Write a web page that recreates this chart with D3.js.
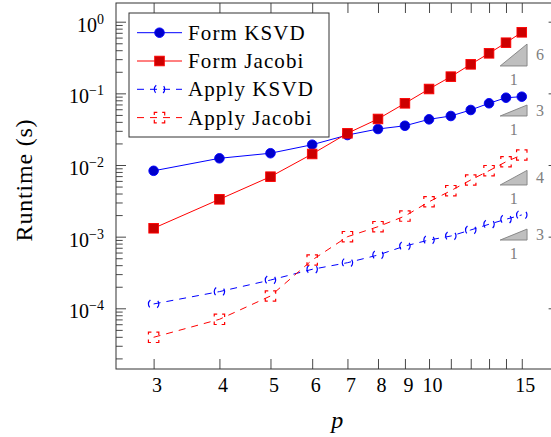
<!DOCTYPE html>
<html>
<head>
<meta charset="utf-8">
<script src="https://cdn.jsdelivr.net/npm/d3@7"></script>
<style>
    html, body { margin: 0; padding: 0; background: #fff; }
    svg { display: block; font-family: 'Liberation Serif', 'DejaVu Serif', serif; }
    svg text { font-family: 'Liberation Serif', 'DejaVu Serif', serif; }
</style>
</head>
<body>
<svg id="chart"></svg>
<script>
const pValues = [3, 4, 5, 6, 7, 8, 9, 10, 11, 12, 13, 14, 15];
const formKsvd = [0.0083, 0.0124, 0.0146, 0.0192, 0.0262, 0.0318, 0.0353, 0.0434, 0.0483, 0.0586, 0.0727, 0.0869, 0.0898];
const formJacobi = [0.00131, 0.00332, 0.00687, 0.01425, 0.0277, 0.0439, 0.0726, 0.115, 0.171, 0.254, 0.362, 0.509, 0.711];
const applyKsvd = [1.15e-4, 1.71e-4, 2.48e-4, 3.5e-4, 4.33e-4, 5.54e-4, 7.4e-4, 8.97e-4, 1.02e-3, 1.24e-3, 1.49e-3, 1.75e-3, 2.01e-3];
const applyJacobi = [3.94e-5, 7.02e-5, 1.485e-4, 4.72e-4, 9.98e-4, 1.377e-3, 1.94e-3, 3.07e-3, 4.38e-3, 6.18e-3, 8.33e-3, 1.11e-2, 1.38e-2];
const seriesNames = ['Form KSVD', 'Form Jacobi', 'Apply KSVD', 'Apply Jacobi'];

const xTickLabels = ['3', '4', '5', '6', '7', '8', '9', '10', '', '', '', '', '15'];
const yTickExponents = [0, -1, -2, -3, -4];

// slope triangles: rate, base value at the left corner, p span
const slopeRates = [6, 3, 4, 3];
const slopeBases = [0.241, 0.0483, 0.00526, 0.000897];
const slopeSpan = [13.65, 15.35];

const width = 551;
const height = 437;
const plot = { left: 116, right: 558.6, top: 3, bottom: 369 };

function init() {
    const svg = d3.select('#chart')
        .attr('width', width)
        .attr('height', height);

    const x = d3.scaleLog()
        .domain([2.545, 17.62])
        .range([plot.left, plot.right]);
    const y = d3.scaleLog()
        .domain([10 ** -4.847, 10 ** 0.261])
        .range([plot.bottom, plot.top]);

    const series = [
        { name: seriesNames[0], values: formKsvd, color: '#0000ff', fill: '#0000cc', mark: 'circle', dashed: false },
        { name: seriesNames[1], values: formJacobi, color: '#ff0000', fill: '#cc0000', mark: 'square', dashed: false },
        { name: seriesNames[2], values: applyKsvd, color: '#0000ff', fill: 'none', mark: 'circle', dashed: true },
        { name: seriesNames[3], values: applyJacobi, color: '#ff0000', fill: 'none', mark: 'square', dashed: true },
    ];

    // minor y ticks 2..9 per decade
    const minorY = [];
    for (let e = -5; e <= 0; e++) {
        for (let m = 2; m <= 9; m++) {
            const v = m * 10 ** e;
            if (v > y.domain()[0] && v < y.domain()[1])
                minorY.push(v);
        }
    }
    const majorY = yTickExponents.map(e => 10 ** e);

    const axes = svg.append('g').attr('color', '#333');

    const xb = axes.append('g')
        .attr('transform', `translate(0,${plot.bottom})`)
        .call(d3.axisBottom(x)
            .tickValues(pValues)
            .tickFormat((d, i) => xTickLabels[i])
            .tickSizeInner(-10)
            .tickSizeOuter(0)
            .tickPadding(9));
    xb.selectAll('text')
        .attr('dx', 3)
        .attr('fill', '#000');

    axes.append('g')
        .attr('transform', `translate(0,${plot.top})`)
        .call(d3.axisTop(x).tickValues(pValues).tickFormat('').tickSizeInner(-10).tickSizeOuter(0));

    for (const [vals, len] of [[majorY, 10], [minorY, 6.7]]) {
        axes.append('g')
            .attr('transform', `translate(${plot.left},0)`)
            .call(d3.axisLeft(y).tickValues(vals).tickFormat('').tickSizeInner(-len).tickSizeOuter(0));
        axes.append('g')
            .attr('transform', `translate(${plot.right},0)`)
            .call(d3.axisRight(y).tickValues(vals).tickFormat('').tickSizeInner(-len).tickSizeOuter(0));
    }
    axes.selectAll('.domain').remove();
    axes.selectAll('line').attr('stroke-width', 0.9);
    axes.selectAll('g')
        .attr('font-family', null)
        .attr('font-size', 20);

    axes.append('rect')
        .attr('x', plot.left)
        .attr('y', plot.top)
        .attr('width', plot.right - plot.left)
        .attr('height', plot.bottom - plot.top)
        .attr('fill', 'none')
        .attr('stroke', '#333')
        .attr('stroke-width', 1);

    // y tick labels 10^k
    svg.append('g')
        .selectAll('text')
        .data(yTickExponents)
        .join('text')
        .attr('x', 104)
        .attr('y', d => y(10 ** d) + 10)
        .attr('text-anchor', 'end')
        .attr('font-size', 20)
        .each(function (d) {
            const t = d3.select(this);
            t.append('tspan').text('10');
            t.append('tspan')
                .attr('font-size', 14)
                .attr('dy', -8)
                .text(d < 0 ? '\u2212' + (-d) : String(d));
        });

    svg.append('text')
        .attr('transform', `translate(32,${(plot.top + plot.bottom) / 2 - 6}) rotate(-90)`)
        .attr('text-anchor', 'middle')
        .attr('font-size', 24)
        .attr('letter-spacing', 0.8)
        .text('Runtime (s)');

    svg.append('text')
        .attr('x', (plot.left + plot.right) / 2)
        .attr('y', 428)
        .attr('text-anchor', 'middle')
        .attr('font-size', 24)
        .attr('font-style', 'italic')
        .text('p');

    svg.append('defs').append('clipPath')
        .attr('id', 'clip')
        .append('rect')
        .attr('x', plot.left)
        .attr('y', plot.top)
        .attr('width', plot.right - plot.left)
        .attr('height', plot.bottom - plot.top);

    const line = d3.line()
        .x((d, i) => x(pValues[i]))
        .y(d => y(d));

    const drawMark = (g, s, cx, cy) => {
        if (s.mark === 'circle') {
            const r = s.dashed ? 5.2 : 4.8;
            const c = 2 * Math.PI * r;
            g.append('circle')
                .attr('cx', cx).attr('cy', cy).attr('r', r)
                .attr('fill', s.fill)
                .attr('stroke', s.color)
                .attr('stroke-width', s.dashed ? 1.2 : 0.9)
                .attr('stroke-dasharray', s.dashed ? `${c / 4},${c / 4}` : null)
                .attr('stroke-dashoffset', s.dashed ? c / 8 : null);
        } else {
            const h = s.dashed ? 5.2 : 4.8;
            g.append('rect')
                .attr('x', cx - h).attr('y', cy - h)
                .attr('width', 2 * h).attr('height', 2 * h)
                .attr('fill', s.fill)
                .attr('stroke', s.color)
                .attr('stroke-width', s.dashed ? 1.2 : 0.9)
                .attr('stroke-dasharray', s.dashed ? '5.5,4.9' : null)
                .attr('stroke-dashoffset', s.dashed ? 2.5 : null);
        }
    };

    for (const s of series) {
        const g = svg.append('g');
        g.append('path')
            .attr('clip-path', 'url(#clip)')
            .attr('d', line(s.values))
            .attr('fill', 'none')
            .attr('stroke', s.color)
            .attr('stroke-width', 1)
            .attr('stroke-dasharray', s.dashed ? '7,6' : null);
        s.values.forEach((v, i) => drawMark(g, s, x(pValues[i]), y(v)));
    }

    // slope triangles
    const tri = svg.append('g');
    slopeRates.forEach((rate, i) => {
        const base = slopeBases[i];
        const top = base * (slopeSpan[1] / slopeSpan[0]) ** rate;
        const x0 = x(slopeSpan[0]);
        const x1 = x(slopeSpan[1]);
        tri.append('path')
            .attr('d', `M${x0},${y(base)}L${x1},${y(base)}L${x1},${y(top)}Z`)
            .attr('fill', '#bfbfbf')
            .attr('stroke', '#808080')
            .attr('stroke-width', 0.9);
        tri.append('text')
            .attr('x', x1 + 13)
            .attr('y', (y(base) + y(top)) / 2 + 5)
            .attr('text-anchor', 'middle')
            .attr('font-size', 16)
            .attr('fill', '#808080')
            .text(rate);
        tri.append('text')
            .attr('x', (x0 + x1) / 2)
            .attr('y', y(base) + 19)
            .attr('text-anchor', 'middle')
            .attr('font-size', 16)
            .attr('fill', '#808080')
            .text('1');
    });

    // legend
    const legend = svg.append('g');
    legend.append('rect')
        .attr('x', 129)
        .attr('y', 13)
        .attr('width', 200)
        .attr('height', 124)
        .attr('fill', '#fff')
        .attr('stroke', '#333')
        .attr('stroke-width', 1);
    series.forEach((s, i) => {
        const ry = 32.7 + i * 28.3;
        const g = legend.append('g');
        g.append('line')
            .attr('x1', 137).attr('x2', 182)
            .attr('y1', ry).attr('y2', ry)
            .attr('stroke', s.color)
            .attr('stroke-width', 1)
            .attr('stroke-dasharray', s.dashed ? '7,6' : null);
        drawMark(g, s, 159.5, ry);
        g.append('text')
            .attr('x', 188)
            .attr('y', ry + 7)
            .attr('font-size', 21)
            .attr('letter-spacing', 1.1)
            .text(s.name);
    });
}

init();
</script>
</body>
</html>
